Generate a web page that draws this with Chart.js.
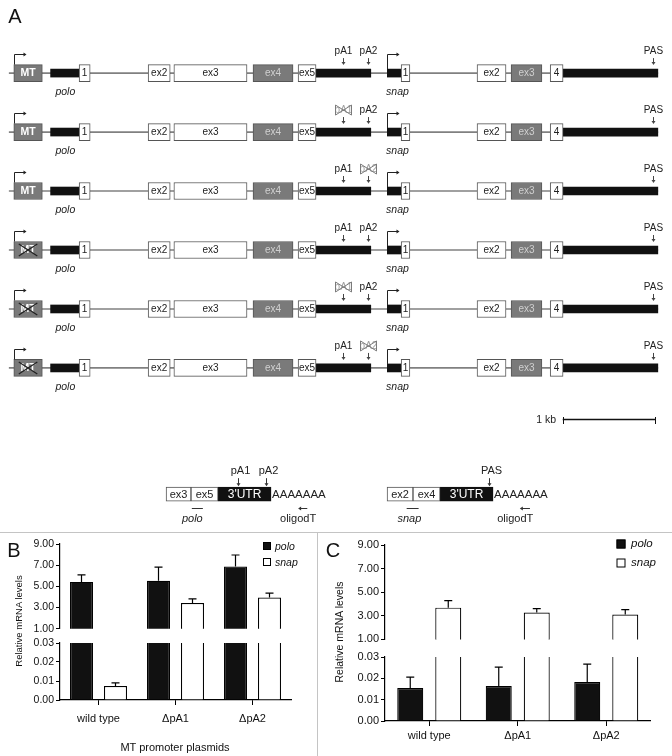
<!DOCTYPE html>
<html>
<head>
<meta charset="utf-8">
<script src="https://cdn.jsdelivr.net/npm/chart.js@4.4.1/dist/chart.umd.min.js"></script>
<style>
    body { margin: 0; background: #fff; }
    #page { position: relative; width: 672px; height: 756px; overflow: hidden; font-family: "Liberation Sans", Arial, sans-serif; color: #111; }
    canvas { position: absolute; }
    .t { position: absolute; line-height: 1; white-space: nowrap; transform: translate(-50%, -50%); }
    .l { position: absolute; line-height: 1; white-space: nowrap; transform: translate(0, -50%); font-style: italic; }
    .vt { position: absolute; line-height: 1; white-space: nowrap; transform: translate(-50%, -50%) rotate(-90deg); }
    .sq { position: absolute; width: 8px; height: 8px; box-sizing: border-box; border: 1px solid #000; transform: translate(-50%, -50%); }
    .sep { position: absolute; background: #c4c4c4; }
</style>
</head>
<body>
<div id="page">
    <canvas id="geneMap" width="672" height="455" style="left:0px;top:0px"></canvas>
    <canvas id="mrna" width="672" height="75" style="left:0px;top:455px"></canvas>
    <canvas id="bTop" width="316" height="103" style="left:0px;top:534px"></canvas>
    <canvas id="bBot" width="316" height="97" style="left:0px;top:633px"></canvas>
    <canvas id="cTop" width="355" height="113" style="left:317px;top:535px"></canvas>
    <canvas id="cBot" width="355" height="104" style="left:317px;top:647px"></canvas>

    <div class="sep" style="left:0;top:532px;width:672px;height:1px"></div>
    <div class="sep" style="left:317px;top:532px;width:1px;height:224px"></div>

    <div class="t" style="left:15px;top:16px;font-size:20px">A</div>
    <div class="t" style="left:14px;top:550px;font-size:20px">B</div>
    <div class="t" style="left:333px;top:550px;font-size:20px">C</div>

    <div class="vt" style="left:19px;top:621px;font-size:9.5px">Relative mRNA levels</div>
    <div class="vt" style="left:339px;top:632px;font-size:10.5px">Relative mRNA levels</div>
    <div class="t" style="left:175px;top:747px;font-size:11px">MT promoter plasmids</div>

    <div class="sq" style="left:267px;top:546px;background:#111"></div>
    <div class="l" style="left:275px;top:546px;font-size:10.5px">polo</div>
    <div class="sq" style="left:267px;top:562px;background:#fff"></div>
    <div class="l" style="left:275px;top:562px;font-size:10.5px">snap</div>

    <div class="sq" style="left:621px;top:544px;background:#111;width:9px;height:9px"></div>
    <div class="l" style="left:631px;top:544px;font-size:11.5px">polo</div>
    <div class="sq" style="left:621px;top:563px;background:#fff;width:9px;height:9px"></div>
    <div class="l" style="left:631px;top:563px;font-size:11.5px">snap</div>
</div>

<script>
// ============================
// Data: gene map (positions in kb)
// ============================
const rows = [0, 1, 2, 3, 4, 5];
const mtDeleted = [false, false, false, true, true, true];
const pA1Deleted = [false, true, false, false, true, false];
const pA2Deleted = [false, false, true, false, false, true];

const geneLineKb = [0.10, 7.15];
const mtBoxKb = [0.15, 0.46];
const utrStartKb = [0.55, 3.435, 4.21, 6.12];
const utrEndKb = [0.86, 4.03, 4.36, 7.15];
const exonLabels = ['1', 'ex2', 'ex3', 'ex4', 'ex5', '1', 'ex2', 'ex3', '4'];
const exonStartKb = [0.86, 1.61, 1.89, 2.75, 3.24, 4.36, 5.185, 5.555, 5.98];
const exonEndKb = [0.98, 1.85, 2.685, 3.185, 3.435, 4.455, 5.50, 5.89, 6.12];
const exonShaded = [false, false, false, true, false, false, false, true, false];
const geneNames = ['polo', 'snap'];
const geneNameKb = [0.71, 4.32];
const tssKb = [0.15, 4.21];
const pasNames = ['pA1', 'pA2', 'PAS'];
const pasKb = [3.73, 4.00, 7.10];
const scaleBarKb = [6.12, 7.12];
const scaleBarRow = 5.875;

// mRNA sketches
const mrnaBoxLabels = ['ex3', 'ex5', 'ex2', 'ex4'];
const mrnaBoxStartKb = [1.805, 2.076, 4.207, 4.489];
const mrnaBoxEndKb = [2.076, 2.37, 4.489, 4.783];
const mrnaUtrStartKb = [2.37, 4.783];
const mrnaUtrEndKb = [2.946, 5.359];
const mrnaSiteNames = ['pA1', 'pA2', 'PAS'];
const mrnaSiteKb = [2.587, 2.891, 5.315];
const primerStartKb = [2.085, 4.42];
const primerEndKb = [2.205, 4.55];
const primerNames = ['polo', 'snap'];
const primerLabelKb = [2.09, 4.45];
const oligoStartKb = [3.24, 5.65];
const oligoEndKb = [3.34, 5.76];
const oligoLabelKb = [3.24, 5.60];

// ============================
// Data: qPCR bars
// ============================
const categories = ['wild type', 'ΔpA1', 'ΔpA2'];
const bPolo = [5.42, 5.52, 6.87];
const bPoloErr = [0.66, 1.29, 1.09];
const bSnap = [0.0074, 3.42, 3.95];
const bSnapErr = [0.0016, 0.40, 0.41];
const cPolo = [0.0155, 0.0164, 0.0183];
const cPoloErr = [0.0051, 0.0089, 0.0084];
const cSnap = [3.69, 3.27, 3.11];
const cSnapErr = [0.59, 0.34, 0.42];
const upperTicks = [1, 3, 5, 7, 9];
const lowerTicks = [0, 0.01, 0.02, 0.03];

const FAMILY = '"Liberation Sans", Arial, sans-serif';
Chart.defaults.font.family = FAMILY;
Chart.defaults.color = '#111';

// ============================
// small drawing helpers
// ============================
function label(ctx, str, x, y, font, color, align = 'center') {
    ctx.font = font; ctx.fillStyle = color;
    ctx.textAlign = align; ctx.textBaseline = 'middle';
    ctx.fillText(str, x, y);
}

function downArrow(ctx, x, y0, y1, color) {
    ctx.strokeStyle = color; ctx.fillStyle = color; ctx.lineWidth = 1;
    ctx.beginPath(); ctx.moveTo(x, y0); ctx.lineTo(x, y1 - 2); ctx.stroke();
    ctx.beginPath(); ctx.moveTo(x - 2, y1 - 3); ctx.lineTo(x + 2, y1 - 3); ctx.lineTo(x, y1); ctx.closePath(); ctx.fill();
}

function sideArrow(ctx, x0, x1, y, color) {
    // arrow head at x1
    const dir = x1 > x0 ? 1 : -1;
    ctx.strokeStyle = color; ctx.fillStyle = color; ctx.lineWidth = 1;
    ctx.beginPath(); ctx.moveTo(x0, y); ctx.lineTo(x1 - dir * 2, y); ctx.stroke();
    ctx.beginPath(); ctx.moveTo(x1 - dir * 3, y - 2); ctx.lineTo(x1 - dir * 3, y + 2); ctx.lineTo(x1, y); ctx.closePath(); ctx.fill();
}

function crossOut(ctx, cx, cy, w, h) {
    ctx.strokeStyle = '#7a7a7a'; ctx.lineWidth = 1;
    ctx.beginPath();
    ctx.moveTo(cx - w, cy - h); ctx.lineTo(cx + w, cy + h);
    ctx.moveTo(cx - w, cy + h); ctx.lineTo(cx + w, cy - h);
    ctx.moveTo(cx - w, cy - h); ctx.lineTo(cx - w, cy + h);
    ctx.moveTo(cx + w, cy - h); ctx.lineTo(cx + w, cy + h);
    ctx.stroke();
}

// ============================
// Panel A: gene map
// ============================
const tssRise = [8.5, 4];  // half height of the feature the arrow starts on

const geneDecor = {
    id: 'geneDecor',
    afterDatasetsDraw(chart) {
        const { ctx, scales: { x, y } } = chart;
        ctx.save();
        const exDs = chart.data.datasets[3];
        chart.getDatasetMeta(3).data.forEach((el, i) => {
            const k = exDs.data[i].k;
            label(ctx, exonLabels[k], (el.x + el.base) / 2, el.y + 0.5, `10px ${FAMILY}`, exonShaded[k] ? '#d0d0d0' : '#222');
        });
        chart.getDatasetMeta(2).data.forEach((el, r) => {
            const l = Math.min(el.x, el.base), rt = Math.max(el.x, el.base);
            label(ctx, 'MT', (l + rt) / 2, el.y + 0.5, `bold 10.5px ${FAMILY}`, '#fff');
            if (mtDeleted[r]) {
                ctx.strokeStyle = '#222'; ctx.lineWidth = 1.3;
                ctx.beginPath();
                ctx.moveTo(l + 5, el.y - 6); ctx.lineTo(rt - 5, el.y + 6);
                ctx.moveTo(l + 5, el.y + 6); ctx.lineTo(rt - 5, el.y - 6);
                ctx.stroke();
            }
        });
        rows.forEach(r => {
            const ry = y.getPixelForValue(r);
            tssKb.forEach((kb, g) => {
                const px = Math.round(x.getPixelForValue(kb)) + 0.5;
                const top = Math.round(ry - 19) + 0.5;
                ctx.strokeStyle = '#222'; ctx.lineWidth = 1;
                ctx.beginPath(); ctx.moveTo(px, ry - tssRise[g]); ctx.lineTo(px, top); ctx.stroke();
                sideArrow(ctx, px, px + 12, top, '#222');
            });
            pasKb.forEach((kb, j) => {
                const px = Math.round(x.getPixelForValue(kb)) + 0.5;
                const gone = (j === 0 && pA1Deleted[r]) || (j === 1 && pA2Deleted[r]);
                label(ctx, pasNames[j], px, ry - 22, `10px ${FAMILY}`, gone ? '#a0a0a0' : '#222');
                if (gone) crossOut(ctx, px, ry - 22, 8, 5);
                downArrow(ctx, px, ry - 15, ry - 8, '#444');
            });
            geneNames.forEach((n, g) => {
                label(ctx, n, x.getPixelForValue(geneNameKb[g]), ry + 19, `italic 10.5px ${FAMILY}`, '#222');
            });
        });
        // scale bar end marks + label
        const sy = Math.round(y.getPixelForValue(scaleBarRow)) + 0.5;
        ctx.strokeStyle = '#111'; ctx.lineWidth = 1;
        scaleBarKb.forEach(kb => {
            const px = Math.round(x.getPixelForValue(kb)) + 0.5;
            ctx.beginPath(); ctx.moveTo(px, sy - 3.5); ctx.lineTo(px, sy + 3.5); ctx.stroke();
        });
        label(ctx, '1 kb', x.getPixelForValue(scaleBarKb[0]) - 7, sy, `10.5px ${FAMILY}`, '#222', 'right');
        ctx.restore();
    }
};

const perRow = (s, e) => rows.map(r => ({ x: [s, e], y: r }));

new Chart(document.getElementById('geneMap'), {
    type: 'bar',
    data: {
        datasets: [
            { data: perRow(geneLineKb[0], geneLineKb[1]), barThickness: 1, backgroundColor: '#808080', order: 4 },
            {
                data: rows.flatMap(r => utrStartKb.map((s, i) => ({ x: [s, utrEndKb[i]], y: r }))),
                barThickness: 8, backgroundColor: '#111', order: 3
            },
            {
                data: perRow(mtBoxKb[0], mtBoxKb[1]), barThickness: 17,
                backgroundColor: '#7a7a7a', borderColor: '#555', borderWidth: 1, order: 2
            },
            {
                data: rows.flatMap(r => exonStartKb.map((s, k) => ({ x: [s, exonEndKb[k]], y: r, k }))),
                barThickness: 17, borderColor: '#555', borderWidth: 1, order: 1,
                backgroundColor: c => (c.raw && exonShaded[c.raw.k]) ? '#7a7a7a' : '#fff'
            },
            { data: [{ x: scaleBarKb, y: scaleBarRow }], barThickness: 1, backgroundColor: '#111', order: 1 }
        ].map(d => ({ ...d, grouped: false, borderSkipped: false }))
    },
    options: {
        indexAxis: 'y', responsive: false, animation: false,
        layout: { padding: 0 },
        plugins: { legend: { display: false }, tooltip: { enabled: false } },
        scales: {
            x: { type: 'linear', min: 0, max: 7.304, display: false },
            y: { type: 'linear', min: -0.757, max: 5.994, reverse: true, display: false }
        }
    },
    plugins: [geneDecor]
});

// mRNA sketches under the map
const mrnaDecor = {
    id: 'mrnaDecor',
    afterDatasetsDraw(chart) {
        const { ctx, scales: { x, y } } = chart;
        const ry = y.getPixelForValue(0);
        ctx.save();
        chart.getDatasetMeta(0).data.forEach((el, i) => {
            label(ctx, mrnaBoxLabels[i], (el.x + el.base) / 2, el.y + 0.5, `11px ${FAMILY}`, '#222');
        });
        chart.getDatasetMeta(1).data.forEach(el => {
            label(ctx, "3'UTR", (el.x + el.base) / 2, el.y + 0.5, `12px ${FAMILY}`, '#fff');
            label(ctx, 'AAAAAAA', el.x + 1, el.y + 0.5, `11.5px ${FAMILY}`, '#222', 'left');
        });
        mrnaSiteKb.forEach((kb, j) => {
            const px = Math.round(x.getPixelForValue(kb)) + 0.5;
            label(ctx, mrnaSiteNames[j], px + 2, ry - 23, `11px ${FAMILY}`, '#222');
            downArrow(ctx, px, ry - 16, ry - 8, '#333');
        });
        primerStartKb.forEach((s, j) => {
            const py = Math.round(ry + 14) + 0.5;
            ctx.strokeStyle = '#333'; ctx.lineWidth = 1;
            ctx.beginPath(); ctx.moveTo(x.getPixelForValue(s), py); ctx.lineTo(x.getPixelForValue(primerEndKb[j]), py); ctx.stroke();
            label(ctx, primerNames[j], x.getPixelForValue(primerLabelKb[j]), ry + 25, `italic 11px ${FAMILY}`, '#222');
            sideArrow(ctx, x.getPixelForValue(oligoEndKb[j]), x.getPixelForValue(oligoStartKb[j]), py, '#333');
            label(ctx, 'oligodT', x.getPixelForValue(oligoLabelKb[j]), ry + 25, `11px ${FAMILY}`, '#222');
        });
        ctx.restore();
    }
};

new Chart(document.getElementById('mrna'), {
    type: 'bar',
    data: {
        datasets: [
            {
                data: mrnaBoxStartKb.map((s, i) => ({ x: [s, mrnaBoxEndKb[i]], y: 0 })),
                barThickness: 14, backgroundColor: '#fff', borderColor: '#555', borderWidth: 1, order: 1
            },
            {
                data: mrnaUtrStartKb.map((s, i) => ({ x: [s, mrnaUtrEndKb[i]], y: 0 })),
                barThickness: 14, backgroundColor: '#111', borderColor: '#111', borderWidth: 1, order: 2
            }
        ].map(d => ({ ...d, grouped: false, borderSkipped: false }))
    },
    options: {
        indexAxis: 'y', responsive: false, animation: false,
        layout: { padding: 0 },
        plugins: { legend: { display: false }, tooltip: { enabled: false } },
        scales: {
            x: { type: 'linear', min: 0, max: 7.304, display: false },
            y: { type: 'linear', min: -0.4, max: 0.35, reverse: true, display: false }
        }
    },
    plugins: [mrnaDecor]
});

// ============================
// Panels B and C: broken-axis bar charts
// ============================
const errorBars = {
    id: 'errorBars',
    afterDatasetsDraw(chart) {
        const { ctx, chartArea: a, scales: { y } } = chart;
        ctx.save();
        ctx.beginPath(); ctx.rect(a.left, a.top - 1, a.right - a.left, a.bottom - a.top + 1); ctx.clip();
        ctx.strokeStyle = '#000'; ctx.lineWidth = 1.2;
        chart.data.datasets.forEach((ds, di) => {
            chart.getDatasetMeta(di).data.forEach((bar, i) => {
                const v = ds.data[i];
                if (v < y.min || v > y.max) return;
                const top = y.getPixelForValue(v + ds.errors[i]);
                ctx.beginPath();
                ctx.moveTo(bar.x, bar.y); ctx.lineTo(bar.x, top);
                ctx.moveTo(bar.x - 4, top); ctx.lineTo(bar.x + 4, top);
                ctx.stroke();
            });
        });
        ctx.restore();
    }
};

function barPanel(id, upper, p) {
    const common = { borderColor: '#000', borderWidth: 1.2, borderSkipped: 'start', clip: 0, categoryPercentage: p.catPct, barPercentage: p.barPct };
    const x = upper
        ? { display: false }
        : {
            grid: { offset: false, drawOnChartArea: false, tickLength: 5, color: '#000' },
            border: { color: '#000', width: 1.2 },
            ticks: { padding: p.labelPad, color: '#111', font: { size: 11 } },
            afterFit: s => { s.height = 30; }
        };
    return new Chart(document.getElementById(id), {
        type: 'bar',
        data: {
            labels: categories,
            datasets: [
                { label: 'polo', data: p.polo, errors: p.poloErr, backgroundColor: '#111', ...common },
                { label: 'snap', data: p.snap, errors: p.snapErr, backgroundColor: '#fff', ...common }
            ]
        },
        options: {
            responsive: false, animation: false,
            layout: { padding: { top: 10, bottom: upper ? 8 : 0, left: 0, right: p.padRight } },
            plugins: { legend: { display: false }, tooltip: { enabled: false } },
            scales: {
                x,
                y: {
                    min: upper ? 1 : 0, max: upper ? 9 : 0.03,
                    afterBuildTicks: s => { s.ticks = (upper ? upperTicks : lowerTicks).map(v => ({ value: v })); },
                    ticks: { callback: v => Number(v).toFixed(2), padding: 2, color: '#111', font: { size: p.tickSize } },
                    grid: { drawOnChartArea: false, tickLength: 4, color: '#000' },
                    border: { color: '#000', width: 1.2 },
                    afterFit: s => { s.width = p.axisWidth; }
                }
            }
        },
        plugins: [errorBars]
    });
}

const panelB = { polo: bPolo, poloErr: bPoloErr, snap: bSnap, snapErr: bSnapErr, catPct: 0.883, barPct: 0.676, axisWidth: 60, padRight: 25, tickSize: 10.5, labelPad: 7 };
const panelC = { polo: cPolo, poloErr: cPoloErr, snap: cSnap, snapErr: cSnapErr, catPct: 0.859, barPct: 0.684, axisWidth: 68, padRight: 21.5, tickSize: 11, labelPad: 3 };

barPanel('bTop', true, panelB);
barPanel('bBot', false, panelB);
barPanel('cTop', true, panelC);
barPanel('cBot', false, panelC);
</script>
</body>
</html>
